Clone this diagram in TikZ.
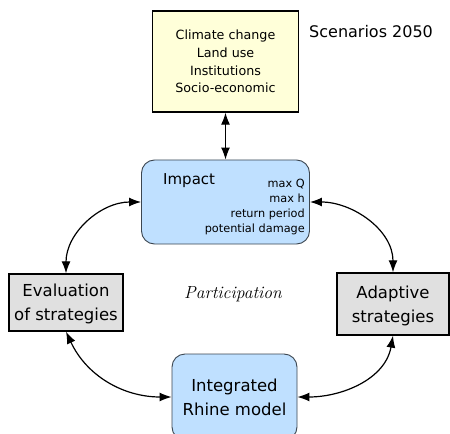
\documentclass[tikz,border=0pt]{standalone}
\usepackage{fontspec}
\usetikzlibrary{arrows.meta}
\newfontfamily\dejavu{DejaVu Sans}
\definecolor{scenyellow}{HTML}{FFFFD9}
\definecolor{impblue}{HTML}{BFE0FF}
\definecolor{stratgray}{HTML}{E0E0E0}
\definecolor{rimgray}{HTML}{3C4650}
\newcommand\scenfont{\dejavu\fontsize{12.7bp}{17.7bp}\selectfont}
\newcommand\bigfont{\dejavu\fontsize{16.5bp}{24bp}\selectfont}
\newcommand\varfont{\dejavu\fontsize{11.3bp}{15bp}\selectfont}
\newcommand\titlefont{\dejavu\fontsize{15bp}{18bp}\selectfont}
\begin{document}
\begin{tikzpicture}[x=1bp,y=-1bp,
        sqbox/.style={draw=black,line width=1.3bp,inner sep=0pt,align=center,
                      text depth=0pt},
        rndbox/.style={draw=rimgray,line width=0.9bp,rounded corners=13bp,
                       fill=impblue,inner sep=0pt},
        link/.style={line width=1.2bp,
                     {Latex[length=12bp,width=9bp]}-{Latex[length=12bp,width=9bp]}}]
      \useasboundingbox[fill=white] (0,0) rectangle (450,434);
      % scenarios
      \node[sqbox,fill=scenyellow,minimum width=146bp,minimum height=101bp,
            font=\scenfont] (scen) at (225.5,61.5)
            {Climate change\\Land use\\Institutions\\Socio-economic};
      \node[anchor=base west,inner sep=0pt,font=\bigfont\fontsize{16bp}{18bp}\selectfont]
            (scenlbl) at (309,37.5) {Scenarios 2050};
      % impact
      \node[rndbox,minimum width=168bp,minimum height=84bp] (impact) at (225.5,202) {};
      \node[anchor=base west,inner sep=0pt,font=\titlefont] (impactlbl) at (163,185) {Impact};
      \node[anchor=north east,inner sep=0pt,align=right,font=\varfont] (impactvars)
            at (305,178.8) {max Q\\max h\\return period\\potential damage};
      % strategies
      \node[sqbox,fill=stratgray,minimum width=114bp,minimum height=57bp,
            font=\bigfont] (eval) at (66,302.5) {Evaluation\\of strategies};
      \node[sqbox,fill=stratgray,minimum width=112bp,minimum height=62bp,
            font=\bigfont] (adapt) at (393,304) {Adaptive\\strategies};
      % model
      \node[rndbox,minimum width=125bp,minimum height=86bp,align=center,
            text depth=0pt,font=\bigfont] (rhine) at (234.5,397)
            {Integrated\\Rhine model};
      \node[anchor=base,inner sep=0pt,font=\fontsize{17.5bp}{20bp}\selectfont\itshape]
            (part) at (233,298) {Participation};
      % links
      \draw[link] (scen.south) -- (impact.north);
      \draw[link] (impact.west) to[out=180,in=90] (eval.north);
      \draw[link] (impact.east) to[out=0,in=90] (adapt.north);
      \draw[link] (eval.south) to[out=-65,in=180] (rhine.west);
      \draw[link] (adapt.south) to[out=-100,in=0] (rhine.east);
    \end{tikzpicture}
\end{document}
